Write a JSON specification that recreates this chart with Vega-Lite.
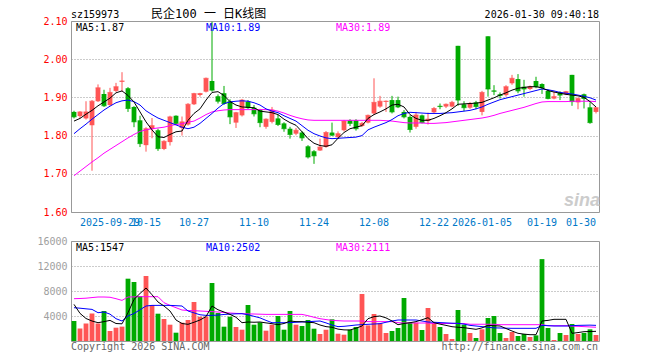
{
"$schema": "https://vega.github.io/schema/vega-lite/v6.json",
"background": "white",
"padding": {"left": 36, "top": 7, "right": 2, "bottom": 2},
"data": {"values": [
{"d":"2025-09-19","o":1.862,"h":1.865,"l":1.845,"c":1.849,"v":3200,"m5":1.838,"m10":1.805,"m30":1.695,"vm5":5860,"vm10":5330,"vm30":6770},
{"d":"2025-09-22","o":1.851,"h":1.864,"l":1.845,"c":1.862,"v":2000,"m5":1.845,"m10":1.818,"m30":1.707,"vm5":4420,"vm10":5250,"vm30":6800},
{"d":"2025-09-23","o":1.845,"h":1.890,"l":1.842,"c":1.862,"v":2800,"m5":1.856,"m10":1.830,"m30":1.719,"vm5":3600,"vm10":5150,"vm30":6850},
{"d":"2025-09-24","o":1.827,"h":1.893,"l":1.708,"c":1.890,"v":4400,"m5":1.866,"m10":1.843,"m30":1.731,"vm5":3200,"vm10":5060,"vm30":6950},
{"d":"2025-09-25","o":1.890,"h":1.934,"l":1.888,"c":1.925,"v":2800,"m5":1.878,"m10":1.855,"m30":1.742,"vm5":2930,"vm10":4530,"vm30":7040},
{"d":"2025-09-26","o":1.909,"h":1.920,"l":1.875,"c":1.878,"v":4800,"m5":1.888,"m10":1.867,"m30":1.754,"vm5":3100,"vm10":4640,"vm30":7040},
{"d":"2025-09-29","o":1.880,"h":1.925,"l":1.878,"c":1.913,"v":1600,"m5":1.898,"m10":1.877,"m30":1.764,"vm5":3300,"vm10":4300,"vm30":7000},
{"d":"2025-09-30","o":1.917,"h":1.938,"l":1.914,"c":1.928,"v":2130,"m5":1.912,"m10":1.886,"m30":1.774,"vm5":2800,"vm10":3570,"vm30":6770},
{"d":"2025-10-09","o":1.941,"h":1.966,"l":1.915,"c":1.943,"v":2300,"m5":1.917,"m10":1.891,"m30":1.784,"vm5":2750,"vm10":3200,"vm30":6500},
{"d":"2025-10-10","o":1.924,"h":1.927,"l":1.862,"c":1.871,"v":9970,"m5":1.905,"m10":1.893,"m30":1.794,"vm5":4530,"vm10":4000,"vm30":7040},
{"d":"2025-10-13","o":1.875,"h":1.877,"l":1.822,"c":1.836,"v":9440,"m5":1.888,"m10":1.889,"m30":1.803,"vm5":6660,"vm10":4400,"vm30":7060},
{"d":"2025-10-14","o":1.840,"h":1.852,"l":1.770,"c":1.779,"v":7200,"m5":1.862,"m10":1.880,"m30":1.811,"vm5":7600,"vm10":5000,"vm30":7090},
{"d":"2025-10-15","o":1.775,"h":1.822,"l":1.758,"c":1.818,"v":10400,"m5":1.836,"m10":1.865,"m30":1.815,"vm5":8480,"vm10":5600,"vm30":7090},
{"d":"2025-10-16","o":1.817,"h":1.846,"l":1.793,"c":1.826,"v":5760,"m5":1.815,"m10":1.855,"m30":1.818,"vm5":7400,"vm10":5700,"vm30":7090},
{"d":"2025-10-17","o":1.814,"h":1.818,"l":1.760,"c":1.766,"v":4370,"m5":1.797,"m10":1.846,"m30":1.820,"vm5":6240,"vm10":5700,"vm30":7090},
{"d":"2025-10-20","o":1.765,"h":1.788,"l":1.762,"c":1.785,"v":3520,"m5":1.795,"m10":1.840,"m30":1.822,"vm5":5600,"vm10":5700,"vm30":6130},
{"d":"2025-10-21","o":1.783,"h":1.852,"l":1.774,"c":1.849,"v":2610,"m5":1.803,"m10":1.834,"m30":1.826,"vm5":4800,"vm10":5700,"vm30":5700},
{"d":"2025-10-22","o":1.852,"h":1.853,"l":1.830,"c":1.832,"v":1330,"m5":1.810,"m10":1.828,"m30":1.829,"vm5":3360,"vm10":5650,"vm30":5330},
{"d":"2025-10-23","o":1.820,"h":1.850,"l":1.800,"c":1.836,"v":2930,"m5":1.812,"m10":1.822,"m30":1.831,"vm5":2800,"vm10":5600,"vm30":4960},
{"d":"2025-10-24","o":1.829,"h":1.885,"l":1.826,"c":1.882,"v":3360,"m5":1.840,"m10":1.818,"m30":1.835,"vm5":2670,"vm10":4800,"vm30":4880},
{"d":"2025-10-27","o":1.882,"h":1.912,"l":1.880,"c":1.910,"v":6240,"m5":1.858,"m10":1.822,"m30":1.838,"vm5":3000,"vm10":4500,"vm30":4850},
{"d":"2025-10-28","o":1.906,"h":1.912,"l":1.902,"c":1.910,"v":3890,"m5":1.870,"m10":1.832,"m30":1.846,"vm5":3360,"vm10":4200,"vm30":4800},
{"d":"2025-10-29","o":1.915,"h":1.952,"l":1.913,"c":1.950,"v":3890,"m5":1.893,"m10":1.845,"m30":1.855,"vm5":3900,"vm10":4100,"vm30":4750},
{"d":"2025-10-30","o":1.943,"h":2.098,"l":1.915,"c":1.919,"v":9280,"m5":1.913,"m10":1.858,"m30":1.862,"vm5":5600,"vm10":4100,"vm30":4700},
{"d":"2025-10-31","o":1.903,"h":1.908,"l":1.884,"c":1.890,"v":4480,"m5":1.915,"m10":1.872,"m30":1.865,"vm5":5000,"vm10":4150,"vm30":4640},
{"d":"2025-11-03","o":1.911,"h":1.930,"l":1.880,"c":1.884,"v":2290,"m5":1.905,"m10":1.884,"m30":1.867,"vm5":4640,"vm10":4250,"vm30":4560},
{"d":"2025-11-04","o":1.890,"h":1.895,"l":1.830,"c":1.849,"v":3890,"m5":1.889,"m10":1.888,"m30":1.868,"vm5":4260,"vm10":4300,"vm30":4480},
{"d":"2025-11-05","o":1.834,"h":1.862,"l":1.820,"c":1.860,"v":2240,"m5":1.880,"m10":1.890,"m30":1.868,"vm5":3800,"vm10":4350,"vm30":4420},
{"d":"2025-11-06","o":1.853,"h":1.896,"l":1.850,"c":1.893,"v":1810,"m5":1.875,"m10":1.891,"m30":1.868,"vm5":2930,"vm10":4370,"vm30":4380},
{"d":"2025-11-07","o":1.889,"h":1.893,"l":1.870,"c":1.873,"v":5760,"m5":1.874,"m10":1.890,"m30":1.868,"vm5":3040,"vm10":4200,"vm30":4340},
{"d":"2025-11-10","o":1.873,"h":1.880,"l":1.850,"c":1.857,"v":2610,"m5":1.873,"m10":1.886,"m30":1.868,"vm5":3000,"vm10":3950,"vm30":4320},
{"d":"2025-11-11","o":1.868,"h":1.870,"l":1.822,"c":1.834,"v":2980,"m5":1.864,"m10":1.880,"m30":1.868,"vm5":3040,"vm10":3700,"vm30":4290},
{"d":"2025-11-12","o":1.823,"h":1.845,"l":1.818,"c":1.843,"v":1650,"m5":1.862,"m10":1.870,"m30":1.868,"vm5":2900,"vm10":3300,"vm30":4260},
{"d":"2025-11-13","o":1.836,"h":1.875,"l":1.832,"c":1.867,"v":2610,"m5":1.860,"m10":1.864,"m30":1.867,"vm5":2770,"vm10":2930,"vm30":4260},
{"d":"2025-11-14","o":1.845,"h":1.855,"l":1.825,"c":1.829,"v":4000,"m5":1.855,"m10":1.860,"m30":1.864,"vm5":2610,"vm10":2930,"vm30":4260},
{"d":"2025-11-17","o":1.832,"h":1.835,"l":1.810,"c":1.818,"v":1810,"m5":1.843,"m10":1.852,"m30":1.859,"vm5":2800,"vm10":2930,"vm30":4260},
{"d":"2025-11-18","o":1.818,"h":1.823,"l":1.792,"c":1.803,"v":4800,"m5":1.834,"m10":1.845,"m30":1.853,"vm5":3200,"vm10":2930,"vm30":4260},
{"d":"2025-11-19","o":1.805,"h":1.820,"l":1.801,"c":1.814,"v":2610,"m5":1.827,"m10":1.838,"m30":1.848,"vm5":3100,"vm10":3000,"vm30":4260},
{"d":"2025-11-20","o":1.808,"h":1.812,"l":1.786,"c":1.794,"v":2400,"m5":1.810,"m10":1.826,"m30":1.844,"vm5":3090,"vm10":3050,"vm30":4260},
{"d":"2025-11-21","o":1.772,"h":1.775,"l":1.740,"c":1.744,"v":3360,"m5":1.792,"m10":1.814,"m30":1.841,"vm5":3000,"vm10":3090,"vm30":4050},
{"d":"2025-11-24","o":1.759,"h":1.762,"l":1.726,"c":1.747,"v":1970,"m5":1.780,"m10":1.805,"m30":1.840,"vm5":2930,"vm10":3150,"vm30":3800},
{"d":"2025-11-25","o":1.761,"h":1.792,"l":1.760,"c":1.770,"v":1120,"m5":1.774,"m10":1.799,"m30":1.840,"vm5":2560,"vm10":3200,"vm30":3570},
{"d":"2025-11-26","o":1.770,"h":1.812,"l":1.768,"c":1.808,"v":1810,"m5":1.772,"m10":1.794,"m30":1.840,"vm5":2300,"vm10":2900,"vm30":3430},
{"d":"2025-11-27","o":1.808,"h":1.834,"l":1.799,"c":1.801,"v":3470,"m5":1.776,"m10":1.792,"m30":1.840,"vm5":2200,"vm10":2550,"vm30":3300},
{"d":"2025-11-28","o":1.796,"h":1.811,"l":1.792,"c":1.805,"v":1170,"m5":1.793,"m10":1.793,"m30":1.840,"vm5":1900,"vm10":2300,"vm30":3250},
{"d":"2025-12-01","o":1.814,"h":1.841,"l":1.811,"c":1.838,"v":1010,"m5":1.808,"m10":1.794,"m30":1.840,"vm5":1780,"vm10":2350,"vm30":3200},
{"d":"2025-12-02","o":1.840,"h":1.843,"l":1.825,"c":1.832,"v":1810,"m5":1.818,"m10":1.795,"m30":1.840,"vm5":1760,"vm10":2450,"vm30":3200},
{"d":"2025-12-03","o":1.840,"h":1.843,"l":1.813,"c":1.818,"v":2240,"m5":1.822,"m10":1.796,"m30":1.840,"vm5":2050,"vm10":2560,"vm30":3200},
{"d":"2025-12-04","o":1.825,"h":1.836,"l":1.823,"c":1.832,"v":7520,"m5":1.826,"m10":1.800,"m30":1.840,"vm5":2400,"vm10":2620,"vm30":3200},
{"d":"2025-12-05","o":1.834,"h":1.855,"l":1.832,"c":1.853,"v":2500,"m5":1.845,"m10":1.815,"m30":1.840,"vm5":3570,"vm10":2670,"vm30":3100},
{"d":"2025-12-08","o":1.858,"h":1.950,"l":1.854,"c":1.887,"v":4320,"m5":1.855,"m10":1.822,"m30":1.840,"vm5":3900,"vm10":2720,"vm30":3100},
{"d":"2025-12-09","o":1.876,"h":1.904,"l":1.873,"c":1.890,"v":2830,"m5":1.862,"m10":1.828,"m30":1.840,"vm5":4000,"vm10":2770,"vm30":3100},
{"d":"2025-12-10","o":1.888,"h":1.892,"l":1.862,"c":1.890,"v":1280,"m5":1.870,"m10":1.834,"m30":1.839,"vm5":3700,"vm10":3000,"vm30":3100},
{"d":"2025-12-11","o":1.893,"h":1.904,"l":1.858,"c":1.862,"v":1600,"m5":1.880,"m10":1.842,"m30":1.838,"vm5":3200,"vm10":3200,"vm30":3100},
{"d":"2025-12-12","o":1.893,"h":1.902,"l":1.872,"c":1.875,"v":2080,"m5":1.882,"m10":1.852,"m30":1.836,"vm5":2610,"vm10":3360,"vm30":2930},
{"d":"2025-12-15","o":1.862,"h":1.867,"l":1.845,"c":1.849,"v":6880,"m5":1.875,"m10":1.858,"m30":1.834,"vm5":2800,"vm10":3360,"vm30":2880},
{"d":"2025-12-16","o":1.849,"h":1.853,"l":1.808,"c":1.816,"v":2930,"m5":1.855,"m10":1.861,"m30":1.833,"vm5":2930,"vm10":3360,"vm30":2880},
{"d":"2025-12-17","o":1.823,"h":1.862,"l":1.818,"c":1.854,"v":2930,"m5":1.845,"m10":1.860,"m30":1.833,"vm5":3100,"vm10":3360,"vm30":2880},
{"d":"2025-12-18","o":1.853,"h":1.855,"l":1.832,"c":1.834,"v":1760,"m5":1.840,"m10":1.859,"m30":1.833,"vm5":3400,"vm10":3200,"vm30":2880},
{"d":"2025-12-19","o":1.838,"h":1.860,"l":1.829,"c":1.843,"v":5280,"m5":1.840,"m10":1.858,"m30":1.832,"vm5":3730,"vm10":3040,"vm30":2880},
{"d":"2025-12-22","o":1.861,"h":1.875,"l":1.858,"c":1.871,"v":2930,"m5":1.845,"m10":1.858,"m30":1.832,"vm5":2930,"vm10":3000,"vm30":2800},
{"d":"2025-12-23","o":1.878,"h":1.884,"l":1.869,"c":1.876,"v":2240,"m5":1.852,"m10":1.858,"m30":1.833,"vm5":2700,"vm10":2950,"vm30":2800},
{"d":"2025-12-24","o":1.876,"h":1.884,"l":1.872,"c":1.882,"v":1120,"m5":1.860,"m10":1.859,"m30":1.834,"vm5":2500,"vm10":2900,"vm30":2800},
{"d":"2025-12-25","o":1.876,"h":1.891,"l":1.874,"c":1.887,"v":320,"m5":1.870,"m10":1.860,"m30":1.836,"vm5":2290,"vm10":2850,"vm30":2800},
{"d":"2025-12-26","o":2.035,"h":2.035,"l":1.878,"c":1.893,"v":4960,"m5":1.882,"m10":1.862,"m30":1.838,"vm5":2200,"vm10":2830,"vm30":2800},
{"d":"2025-12-29","o":1.882,"h":1.890,"l":1.864,"c":1.873,"v":2610,"m5":1.883,"m10":1.864,"m30":1.840,"vm5":2130,"vm10":2700,"vm30":2800},
{"d":"2025-12-30","o":1.873,"h":1.888,"l":1.870,"c":1.884,"v":1280,"m5":1.884,"m10":1.866,"m30":1.842,"vm5":2000,"vm10":2500,"vm30":2680},
{"d":"2025-12-31","o":1.887,"h":1.891,"l":1.869,"c":1.876,"v":480,"m5":1.885,"m10":1.870,"m30":1.844,"vm5":1870,"vm10":2400,"vm30":2680},
{"d":"2026-01-05","o":1.862,"h":1.917,"l":1.853,"c":1.913,"v":1870,"m5":1.887,"m10":1.875,"m30":1.846,"vm5":2100,"vm10":2300,"vm30":2680},
{"d":"2026-01-06","o":2.060,"h":2.060,"l":1.902,"c":1.922,"v":3680,"m5":1.893,"m10":1.882,"m30":1.849,"vm5":2500,"vm10":2200,"vm30":2680},
{"d":"2026-01-07","o":1.918,"h":1.932,"l":1.906,"c":1.916,"v":4000,"m5":1.899,"m10":1.888,"m30":1.853,"vm5":2450,"vm10":2100,"vm30":2680},
{"d":"2026-01-08","o":1.908,"h":1.913,"l":1.897,"c":1.905,"v":1280,"m5":1.906,"m10":1.894,"m30":1.858,"vm5":2400,"vm10":2080,"vm30":2610},
{"d":"2026-01-09","o":1.906,"h":1.932,"l":1.902,"c":1.928,"v":480,"m5":1.912,"m10":1.898,"m30":1.862,"vm5":2000,"vm10":2050,"vm30":2610},
{"d":"2026-01-12","o":1.937,"h":1.959,"l":1.933,"c":1.950,"v":1440,"m5":1.919,"m10":1.902,"m30":1.866,"vm5":1600,"vm10":2030,"vm30":2610},
{"d":"2026-01-13","o":1.948,"h":1.961,"l":1.911,"c":1.917,"v":800,"m5":1.924,"m10":1.906,"m30":1.870,"vm5":1230,"vm10":2030,"vm30":2610},
{"d":"2026-01-14","o":1.928,"h":1.946,"l":1.902,"c":1.922,"v":1120,"m5":1.926,"m10":1.910,"m30":1.874,"vm5":1100,"vm10":2030,"vm30":2610},
{"d":"2026-01-15","o":1.922,"h":1.931,"l":1.919,"c":1.928,"v":640,"m5":1.928,"m10":1.914,"m30":1.879,"vm5":1010,"vm10":2030,"vm30":2610},
{"d":"2026-01-16","o":1.943,"h":1.954,"l":1.924,"c":1.928,"v":900,"m5":1.928,"m10":1.918,"m30":1.884,"vm5":1010,"vm10":2030,"vm30":2610},
{"d":"2026-01-19","o":1.935,"h":1.937,"l":1.909,"c":1.925,"v":13100,"m5":1.925,"m10":1.922,"m30":1.888,"vm5":3200,"vm10":2500,"vm30":2610},
{"d":"2026-01-20","o":1.917,"h":1.920,"l":1.895,"c":1.897,"v":2080,"m5":1.918,"m10":1.920,"m30":1.889,"vm5":3300,"vm10":2450,"vm30":2450},
{"d":"2026-01-21","o":1.897,"h":1.915,"l":1.895,"c":1.902,"v":160,"m5":1.914,"m10":1.917,"m30":1.889,"vm5":3470,"vm10":2400,"vm30":2450},
{"d":"2026-01-22","o":1.913,"h":1.916,"l":1.893,"c":1.906,"v":1280,"m5":1.911,"m10":1.913,"m30":1.889,"vm5":3470,"vm10":2400,"vm30":2450},
{"d":"2026-01-23","o":1.908,"h":1.917,"l":1.906,"c":1.915,"v":960,"m5":1.908,"m10":1.911,"m30":1.889,"vm5":3470,"vm10":2400,"vm30":2450},
{"d":"2026-01-26","o":1.959,"h":1.959,"l":1.878,"c":1.889,"v":2720,"m5":1.906,"m10":1.909,"m30":1.890,"vm5":1230,"vm10":2450,"vm30":2380},
{"d":"2026-01-27","o":1.887,"h":1.900,"l":1.869,"c":1.897,"v":1120,"m5":1.904,"m10":1.906,"m30":1.890,"vm5":1350,"vm10":2500,"vm30":2350},
{"d":"2026-01-28","o":1.908,"h":1.910,"l":1.871,"c":1.897,"v":1280,"m5":1.900,"m10":1.903,"m30":1.890,"vm5":1490,"vm10":2520,"vm30":2300},
{"d":"2026-01-29","o":1.874,"h":1.887,"l":1.831,"c":1.834,"v":1870,"m5":1.889,"m10":1.899,"m30":1.890,"vm5":1520,"vm10":2540,"vm30":2250},
{"d":"2026-01-30","o":1.862,"h":1.875,"l":1.858,"c":1.873,"v":960,"m5":1.875,"m10":1.893,"m30":1.889,"vm5":1547,"vm10":2502,"vm30":2200}
]},
"spacing": 29,
"bounds": "flush",
"vconcat": [
{
 "width": 528, "height": 191,
 "encoding": {
  "x": {"field": "d", "type": "ordinal", "scale": {"paddingInner": 0, "paddingOuter": 0},
   "axis": {"values": ["2025-09-29","2025-10-15","2025-10-27","2025-11-10","2025-11-24","2025-12-08","2025-12-22","2026-01-05","2026-01-19","2026-01-30"],
    "labelExpr": "datum.value == '2025-09-29' || datum.value == '2026-01-05' ? datum.value : substring(datum.value, 5)",
    "labelAngle": 0, "labelOverlap": false, "labelColor": "#0078c8", "labelPadding": 5, "bandPosition": 0.25,
    "labelAlign": {"condition": {"test": "datum.value == '2026-01-30'", "value": "right"}, "value": "center"},
    "gridDash": [4, 4], "gridColor": "#aaaaaa", "title": null}}
 },
 "layer": [
  {"mark": {"type": "rule", "strokeWidth": 1},
   "encoding": {"y": {"field": "l", "type": "quantitative", "scale": {"domain": [1.6, 2.1], "nice": false, "zero": false},
     "axis": {"values": [1.6, 1.7, 1.8, 1.9, 2.0, 2.1], "tickCount": 20, "format": ".2f", "labelColor": "#ff0000", "labelPadding": 4, "labelFlush": false, "labelOverlap": false, "gridDash": [1, 2], "gridColor": "#999999", "title": null}},
    "y2": {"field": "h"},
    "color": {"condition": {"test": "datum.c >= datum.o", "value": "#ff5555"}, "value": "#00aa00"}}},
  {"mark": {"type": "bar", "width": {"band": 0.8}},
   "encoding": {"y": {"field": "o", "type": "quantitative"}, "y2": {"field": "c"},
    "color": {"condition": {"test": "datum.c >= datum.o", "value": "#ff5555"}, "value": "#00aa00"}}},
  {"mark": {"type": "tick", "thickness": 1, "size": 5},
   "encoding": {"y": {"field": "c", "type": "quantitative"},
    "color": {"condition": {"test": "datum.c >= datum.o", "value": "#ff5555"}, "value": "#00aa00"}}},
  {"mark": {"type": "line", "color": "#ff00ff", "strokeWidth": 1}, "encoding": {"y": {"field": "m30", "type": "quantitative"}}},
  {"mark": {"type": "line", "color": "#0000ff", "strokeWidth": 1}, "encoding": {"y": {"field": "m10", "type": "quantitative"}}},
  {"mark": {"type": "line", "color": "#000000", "strokeWidth": 1}, "encoding": {"y": {"field": "m5", "type": "quantitative"}}},
  {"data": {"values": [{}]}, "mark": {"type": "text", "text": "sz159973", "align": "left", "baseline": "alphabetic", "dx": -3, "dy": -3.5, "font": "DejaVu Sans Mono", "fontSize": 10, "color": "#000"},
   "encoding": {"x": {"datum": "2025-09-19", "type": "ordinal"}, "y": {"datum": 2.1}}},
  {"data": {"values": [{}]}, "mark": {"type": "text", "text": "民企100 一 日K线图", "align": "left", "baseline": "alphabetic", "dx": -1, "dy": -3.5, "font": "DejaVu Sans Mono, Noto Sans CJK SC", "fontSize": 12, "color": "#000"},
   "encoding": {"x": {"datum": "2025-10-16", "type": "ordinal"}, "y": {"datum": 2.1}}},
  {"data": {"values": [{}]}, "mark": {"type": "text", "text": "2026-01-30 09:40:18", "align": "right", "baseline": "alphabetic", "dx": 3, "dy": -3.5, "font": "DejaVu Sans Mono", "fontSize": 10, "color": "#000"},
   "encoding": {"x": {"datum": "2026-01-30", "type": "ordinal"}, "y": {"datum": 2.1}}},
  {"data": {"values": [{}]}, "mark": {"type": "text", "text": "MA5:1.87", "align": "left", "baseline": "top", "dx": 2, "dy": 2, "font": "DejaVu Sans Mono", "fontSize": 10, "color": "#000000"},
   "encoding": {"x": {"datum": "2025-09-19", "type": "ordinal"}, "y": {"datum": 2.1}}},
  {"data": {"values": [{}]}, "mark": {"type": "text", "text": "MA10:1.89", "align": "left", "baseline": "top", "dx": 0, "dy": 2, "font": "DejaVu Sans Mono", "fontSize": 10, "color": "#0000ff"},
   "encoding": {"x": {"datum": "2025-10-29", "type": "ordinal"}, "y": {"datum": 2.1}}},
  {"data": {"values": [{}]}, "mark": {"type": "text", "text": "MA30:1.89", "align": "left", "baseline": "top", "dx": -2, "dy": 2, "font": "DejaVu Sans Mono", "fontSize": 10, "color": "#ff00ff"},
   "encoding": {"x": {"datum": "2025-11-28", "type": "ordinal"}, "y": {"datum": 2.1}}},
  {"data": {"values": [{}]}, "mark": {"type": "text", "text": "sina", "align": "left", "baseline": "alphabetic", "dx": -2, "dy": -6, "font": "Liberation Sans", "fontSize": 18, "fontWeight": "bold", "fontStyle": "italic", "color": "#cccccc"},
   "encoding": {"x": {"datum": "2026-01-23", "type": "ordinal"}, "y": {"datum": 1.6}}}
 ]
},
{
 "width": 528, "height": 100,
 "encoding": {
  "x": {"field": "d", "type": "ordinal", "scale": {"paddingInner": 0, "paddingOuter": 0},
   "axis": {"values": ["2025-09-29","2025-10-15","2025-10-27","2025-11-10","2025-11-24","2025-12-08","2025-12-22","2026-01-05","2026-01-19","2026-01-30"],
    "labels": false, "bandPosition": 0.25, "gridDash": [4, 4], "gridColor": "#aaaaaa", "title": null}}
 },
 "layer": [
  {"mark": {"type": "bar", "width": {"band": 0.8}},
   "encoding": {"y": {"field": "v", "type": "quantitative", "scale": {"domain": [0, 16000], "nice": false},
     "axis": {"values": [4000, 8000, 12000, 16000], "tickCount": 20, "format": "d", "labelColor": "#a0a0a0", "labelPadding": 4, "labelFlush": false, "labelOverlap": false, "gridDash": [1, 2], "gridColor": "#999999", "title": null}},
    "color": {"condition": {"test": "datum.c >= datum.o", "value": "#ff5555"}, "value": "#00aa00"}}},
  {"mark": {"type": "line", "color": "#ff00ff", "strokeWidth": 1}, "encoding": {"y": {"field": "vm30", "type": "quantitative"}}},
  {"mark": {"type": "line", "color": "#0000ff", "strokeWidth": 1}, "encoding": {"y": {"field": "vm10", "type": "quantitative"}}},
  {"mark": {"type": "line", "color": "#000000", "strokeWidth": 1}, "encoding": {"y": {"field": "vm5", "type": "quantitative"}}},
  {"data": {"values": [{}]}, "mark": {"type": "text", "text": "MA5:1547", "align": "left", "baseline": "top", "dx": 2, "dy": 2, "font": "DejaVu Sans Mono", "fontSize": 10, "color": "#000000"},
   "encoding": {"x": {"datum": "2025-09-19", "type": "ordinal"}, "y": {"datum": 16000}}},
  {"data": {"values": [{}]}, "mark": {"type": "text", "text": "MA10:2502", "align": "left", "baseline": "top", "dx": 0, "dy": 2, "font": "DejaVu Sans Mono", "fontSize": 10, "color": "#0000ff"},
   "encoding": {"x": {"datum": "2025-10-29", "type": "ordinal"}, "y": {"datum": 16000}}},
  {"data": {"values": [{}]}, "mark": {"type": "text", "text": "MA30:2111", "align": "left", "baseline": "top", "dx": -2, "dy": 2, "font": "DejaVu Sans Mono", "fontSize": 10, "color": "#ff00ff"},
   "encoding": {"x": {"datum": "2025-11-28", "type": "ordinal"}, "y": {"datum": 16000}}},
  {"data": {"values": [{}]}, "mark": {"type": "text", "text": "Copyright 2026 SINA.COM", "align": "left", "baseline": "top", "dx": -3, "dy": 1, "font": "DejaVu Sans Mono", "fontSize": 10, "color": "#666666"},
   "encoding": {"x": {"datum": "2025-09-19", "type": "ordinal"}, "y": {"datum": 0}}},
  {"data": {"values": [{}]}, "mark": {"type": "text", "text": "http://finance.sina.com.cn", "align": "right", "baseline": "top", "dx": 2, "dy": 1, "font": "DejaVu Sans Mono", "fontSize": 10, "color": "#666666"},
   "encoding": {"x": {"datum": "2026-01-30", "type": "ordinal"}, "y": {"datum": 0}}}
 ]
}
],
"config": {
 "view": {"stroke": "#999999", "strokeWidth": 1},
 "axis": {"labelFont": "DejaVu Sans Mono", "labelFontSize": 10, "ticks": false, "domain": false}
}
}
